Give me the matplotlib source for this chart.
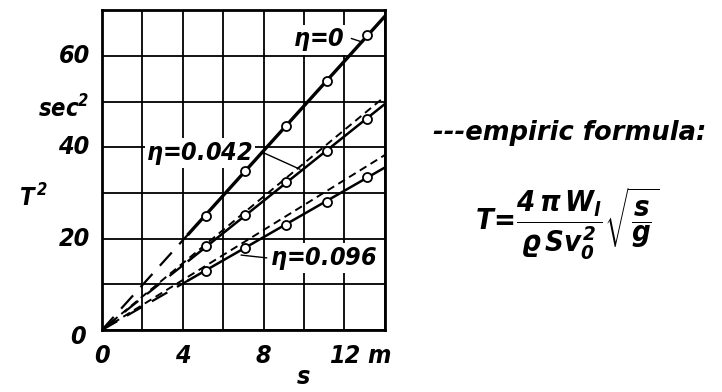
import numpy as np
import matplotlib.pyplot as plt
from matplotlib.ticker import MultipleLocator

plt.rcParams['font.family'] = ['DejaVu Sans']
plt.rcParams['font.style'] = 'italic'
plt.rcParams['font.weight'] = 'bold'
plt.rcParams['font.stretch'] = 'condensed'
plt.rcParams['mathtext.fontset'] = 'custom'
plt.rcParams['mathtext.it'] = 'DejaVu Sans:italic:bold'
plt.rcParams['mathtext.rm'] = 'DejaVu Sans:italic:bold'
plt.rcParams['mathtext.bf'] = 'DejaVu Sans:italic:bold'

s_pts = [5.15, 7.1, 9.1, 11.15, 13.1]
T2_eta0 = [24.9, 34.9, 44.6, 54.5, 64.5]
T2_eta042 = [18.4, 25.2, 32.3, 39.2, 46.2]
T2_eta096 = [13.0, 17.9, 23.1, 28.1, 33.6]

# empiric formula lines: T^2 at s = 0 and s = 14 m
emp_s = [0, 14]
emp_eta042 = [0, 51.1]
emp_eta096 = [0, 38.3]

s_solid_start = 4.3
s_end = 14

fig = plt.figure(figsize=(7.22, 3.92), dpi=100)
ax = fig.add_axes([0.141, 0.158, 0.392, 0.816])

ax.set_xlim(0, 14)
ax.set_ylim(0, 70)
ax.xaxis.set_major_locator(MultipleLocator(4))
ax.xaxis.set_minor_locator(MultipleLocator(2))
ax.yaxis.set_major_locator(MultipleLocator(20))
ax.yaxis.set_minor_locator(MultipleLocator(10))
ax.grid(which='both', color='black', linewidth=1.3)
ax.tick_params(which='both', length=0)
for sp in ax.spines.values():
    sp.set_linewidth(2)
ax.set_xticklabels([])
ax.set_yticklabels([])

fs = 18
# tick labels drawn as text to match the offsets in the original
for v in [0, 4, 8, 12]:
    ax.text(v, -5.6, str(v), ha='center', va='center', fontsize=fs, clip_on=False)
ax.text(13.7, -5.6, 'm', ha='center', va='center', fontsize=fs, clip_on=False)
ax.text(10, -10.3, 's', ha='center', va='center', fontsize=fs, clip_on=False)
for v in [20, 40, 60]:
    ax.text(-0.6, v, str(v), ha='right', va='center', fontsize=fs, clip_on=False)
ax.text(-0.8, -1.5, '0', ha='right', va='center', fontsize=fs, clip_on=False)
ax.text(-0.6, 48.3, r'sec$^2$', ha='right', va='center', fontsize=fs - 1, clip_on=False)
ax.text(-3.4, 29, r'T$^{\,2}$', ha='center', va='center', fontsize=fs - 1, clip_on=False)

series = [(T2_eta0, 2.4), (T2_eta042, 1.8), (T2_eta096, 1.8)]
for T2, lw in series:
    x = np.array(s_pts)
    y = np.array(T2)
    k = (x * y).sum() / (x * x).sum()
    ax.plot([0, s_solid_start], [0, k * s_solid_start], color='black', lw=1.6,
            dashes=(8, 5), zorder=3)
    ax.plot([s_solid_start, s_end], [k * s_solid_start, k * s_end], color='black',
            lw=lw, zorder=3)
    ax.plot(s_pts, T2, 'o', mfc='white', mec='black', ms=6.5, mew=1.3, zorder=4)

for emp in [emp_eta042, emp_eta096]:
    ax.plot(emp_s, emp, color='black', lw=1.4, dashes=(4, 2.5), zorder=3)

bbox = dict(facecolor='white', edgecolor='none', pad=1)
ax.text(10.75, 63.5, r'$\eta$=0', ha='center', va='center', fontsize=fs, bbox=bbox, zorder=2.5)
ax.text(4.85, 38.7, r'$\eta$=0.042', ha='center', va='center', fontsize=fs, bbox=bbox, zorder=2.5)
ax.text(10.95, 15.7, r'$\eta$=0.096', ha='center', va='center', fontsize=fs, bbox=bbox, zorder=2.5)

# leader lines
ax.plot([12.35, 12.9], [63.8, 63.0], color='black', lw=1, zorder=5)
ax.plot([7.9, 9.8], [39.0, 35.2], color='black', lw=1, zorder=5)
ax.plot([8.15, 6.9], [15.8, 16.4], color='black', lw=1, zorder=5)

fig.text(0.6, 0.66, '---empiric formula:', ha='left', va='center', fontsize=18.5,
         fontstretch='normal')
fig.text(0.786, 0.43,
         r'$T\!=\!\dfrac{4\,\pi\, W_l}{\varrho\, S v_0^2}\sqrt{\dfrac{s}{g}}$',
         ha='center', va='center', fontsize=21)

fig.savefig('out.png', dpi=100)
